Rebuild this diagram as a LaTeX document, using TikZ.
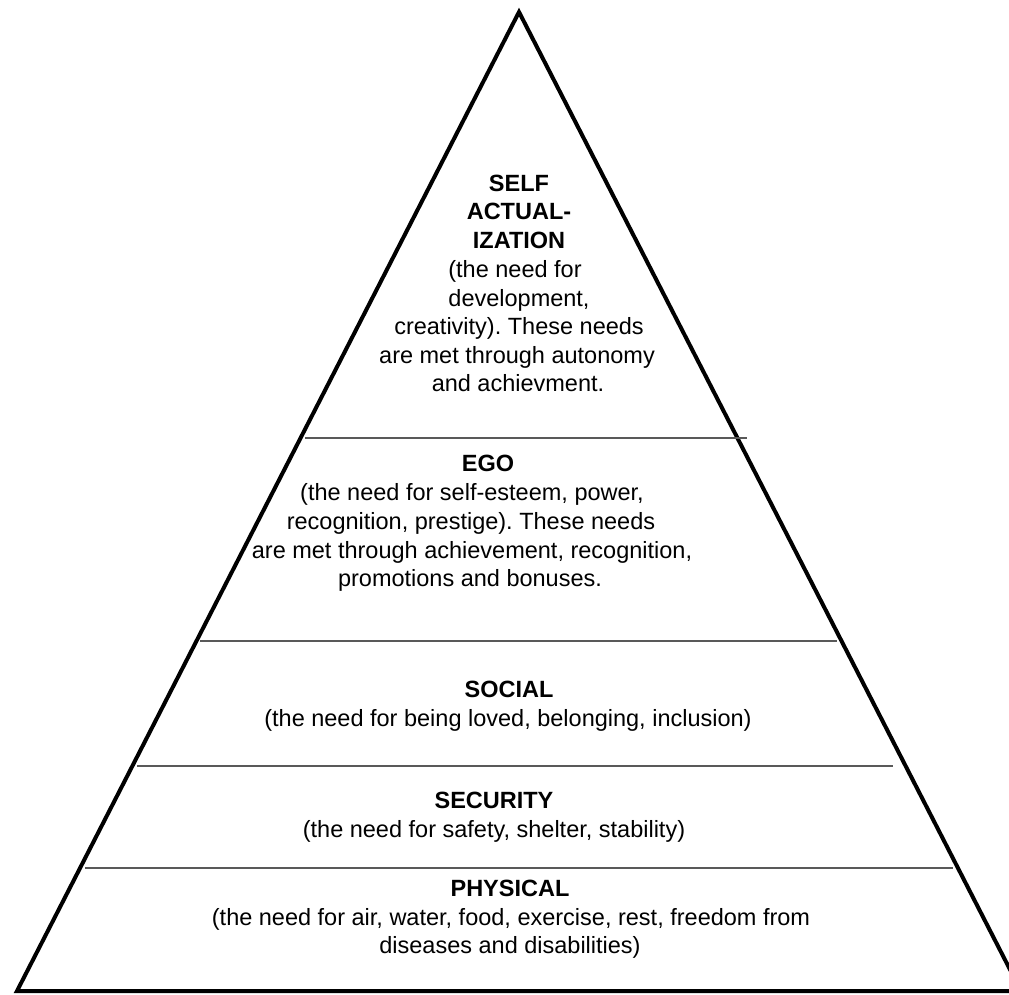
\documentclass[tikz,border=0pt]{standalone}
\usepackage{fontspec}
\setmainfont{Liberation Sans}
\frenchspacing
\begin{document}
\begin{tikzpicture}[x=1pt,y=-1pt,
  txt/.style={anchor=base,inner sep=0pt,font=\fontsize{23.5}{28.6}\selectfont},
  ttl/.style={txt,font=\fontsize{23.5}{28.6}\selectfont\bfseries},
  side/.style={line width=4pt,line join=miter,black},
  divider/.style={line width=1.6pt,black!65}]
\useasboundingbox (0,0) rectangle (1009,994);
\clip (0,0) rectangle (1009,994);
\fill[white] (0,0) rectangle (1009,994);
% pyramid
\coordinate (apex) at (519,12);
\coordinate (bl) at (17,991);
\coordinate (br) at (1021,991);
\draw[side] (bl) -- (apex) -- (br) -- cycle;
% dividers
\coordinate (d1l) at (305,438); \coordinate (d1r) at (747,438);
\coordinate (d2l) at (200,641); \coordinate (d2r) at (837,641);
\coordinate (d3l) at (137,766); \coordinate (d3r) at (893,766);
\coordinate (d4l) at (85,868);  \coordinate (d4r) at (953,868);
\draw[divider] (d1l) -- (d1r);
\draw[divider] (d2l) -- (d2r);
\draw[divider] (d3l) -- (d3r);
\draw[divider] (d4l) -- (d4r);
% self actualization
\node[ttl] (sa1) at (519,191) {SELF};
\node[ttl] (sa2) at (519,219) {ACTUAL-};
\node[ttl] (sa3) at (519,248) {IZATION};
\node[txt] (sa4) at (515,277) {(the need for};
\node[txt] (sa5) at (519,306) {development,};
\node[txt] (sa6) at (519,334) {creativity). These needs};
\node[txt] (sa7) at (517,363) {are met through autonomy};
\node[txt] (sa8) at (518,391) {and achievment.};
% ego
\node[ttl] (eg1) at (488,471) {EGO};
\node[txt] (eg2) at (472,500) {(the need for self-esteem, power,};
\node[txt] (eg3) at (471,529) {recognition, prestige). These needs};
\node[txt] (eg4) at (472,558) {are met through achievement, recognition,};
\node[txt] (eg5) at (470,586) {promotions and bonuses.};
% social
\node[ttl] (so1) at (509,697) {SOCIAL};
\node[txt] (so2) at (508,726) {(the need for being loved, belonging, inclusion)};
% security
\node[ttl] (se1) at (494,808) {SECURITY};
\node[txt] (se2) at (494,837) {(the need for safety, shelter, stability)};
% physical
\node[ttl] (ph1) at (510,896) {PHYSICAL};
\node[txt] (ph2) at (511,925) {(the need for air, water, food, exercise, rest, freedom from};
\node[txt] (ph3) at (510,953) {diseases and disabilities)};
\end{tikzpicture}
\end{document}
